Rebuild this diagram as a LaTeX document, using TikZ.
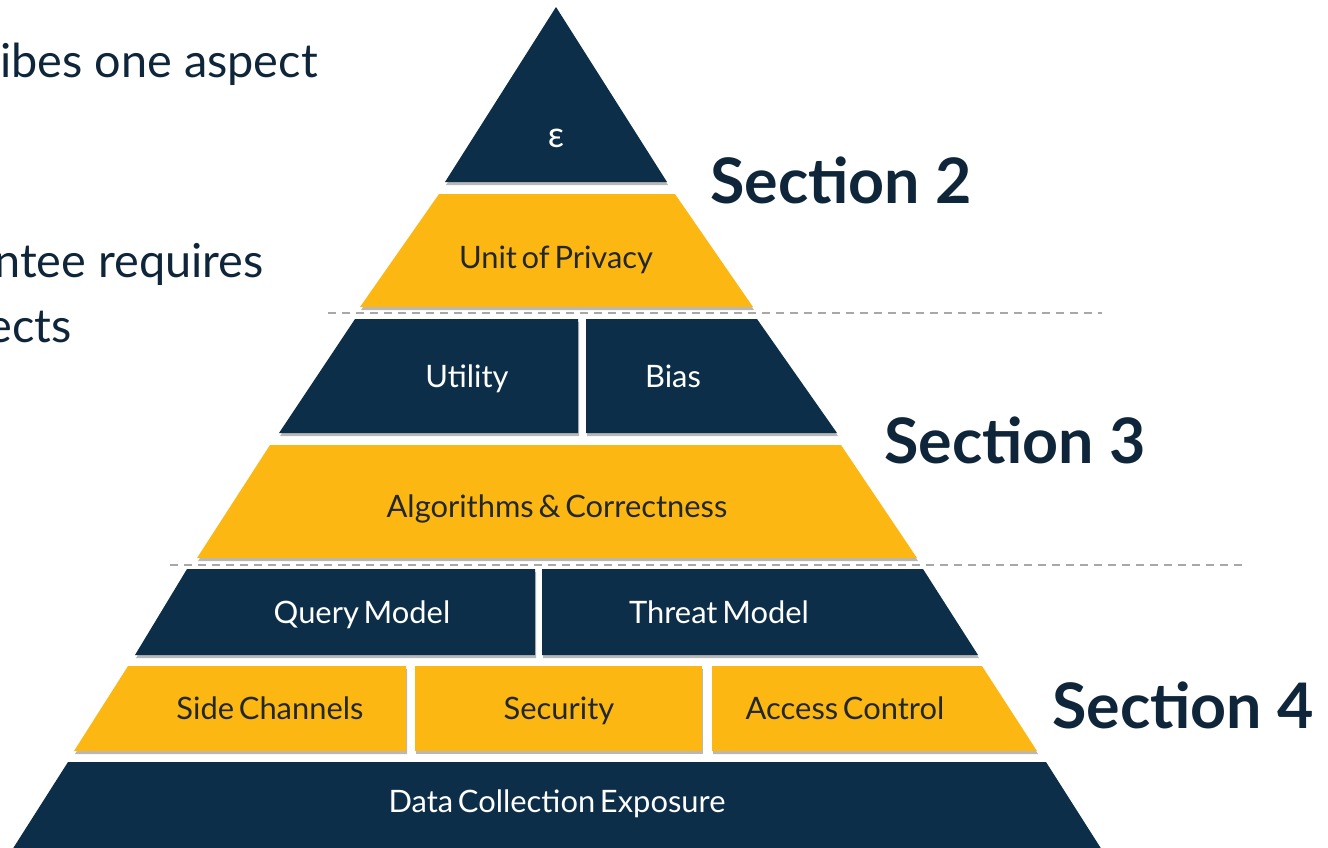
\documentclass[tikz,border=0pt]{standalone}
\usepackage{fontspec}
\setmainfont{Lato}
\newfontfamily\labfont{Lato}[WordSpace=0.6]
\definecolor{navy}{HTML}{0C2E48}
\definecolor{gold}{HTML}{FDB713}
\definecolor{ink}{HTML}{0F2539}
\definecolor{darkink}{HTML}{22282A}
\definecolor{sepgray}{HTML}{A8A8A8}
\begin{document}
\begin{tikzpicture}[x=1bp,y=-1bp,
  layer/.style={preaction={fill=black, opacity=0.28, transform canvas={xshift=1bp,yshift=-3bp}}},
  navyl/.style={layer, fill=navy},
  goldl/.style={layer, fill=gold},
  wlab/.style={text=white, font=\labfont\fontsize{31}{36}\selectfont, anchor=base, inner sep=0pt},
  dlab/.style={text=darkink, font=\labfont\fontsize{31}{36}\selectfont, anchor=base, inner sep=0pt},
  sect/.style={text=ink, font=\bfseries\fontsize{63}{70}\selectfont, anchor=base west, inner sep=0pt},
  sidetxt/.style={text=ink, font=\fontsize{47}{55}\selectfont, anchor=base east, inner sep=0pt},
  sepline/.style={draw=sepgray, dash pattern=on 8bp off 6bp, line width=1.2bp}]
\useasboundingbox (0,0) rectangle (1328,847);
\clip (0,0) rectangle (1328,847);
% separators
\coordinate (d1a) at (328,313);
\coordinate (d1b) at (1102,313);
\coordinate (d2a) at (170,565);
\coordinate (d2b) at (1245,565);
\path[sepline] (d1a) -- (d1b);
\path[sepline] (d2a) -- (d2b);
% layers
\path[navyl] (556,7) -- (667,182) -- (445,182) -- cycle;
\path[goldl] (439,194) -- (675,194) -- (753,307) -- (360,307) -- cycle;
\path[navyl] (355,319) -- (578,319) -- (578,433) -- (279,433) -- cycle;
\path[navyl] (586,319) -- (757,319) -- (837,433) -- (586,433) -- cycle;
\path[goldl] (270,445) -- (841,445) -- (917,558) -- (197,558) -- cycle;
\path[navyl] (187,569) -- (535,569) -- (535,655) -- (135,655) -- cycle;
\path[navyl] (542,569) -- (923,569) -- (978,655) -- (542,655) -- cycle;
\path[goldl] (128,666) -- (406,666) -- (406,751) -- (74,751) -- cycle;
\path[goldl] (415,666) -- (702,666) -- (702,751) -- (415,751) -- cycle;
\path[goldl] (712,666) -- (982,666) -- (1037,751) -- (712,751) -- cycle;
\path[navyl] (68,762) -- (1046,762) -- (1102,850) -- (12,850) -- cycle;
% labels
\node[wlab, font=\labfont\fontsize{36}{40}\selectfont] (eps) at (556,147) {ε};
\node[dlab] (unit) at (556,268) {Unit of Privacy};
\node[wlab] (util) at (467,387) {Utility};
\node[wlab] (bias) at (673,387) {Bias};
\node[dlab] (algo) at (557,517) {Algorithms \& Correctness};
\node[wlab] (query) at (362,623) {Query Model};
\node[wlab] (threat) at (719,623) {Threat Model};
\node[dlab] (side) at (270,719) {Side Channels};
\node[dlab] (secu) at (559,719) {Security};
\node[dlab] (access) at (845,719) {Access Control};
\node[wlab] (data) at (557,812) {Data Collection Exposure};
% section titles
\node[sect] (s2) at (710,203) {Section 2};
\node[sect] (s3) at (884,463) {Section 3};
\node[sect] (s4) at (1052,728) {Section 4};
% clipped side text
\node[sidetxt] (t1) at (318,77) {ibes one aspect};
\node[sidetxt] (t2) at (264,277) {ntee requires};
\node[sidetxt] (t3) at (72,342) {ects};
\end{tikzpicture}
\end{document}
